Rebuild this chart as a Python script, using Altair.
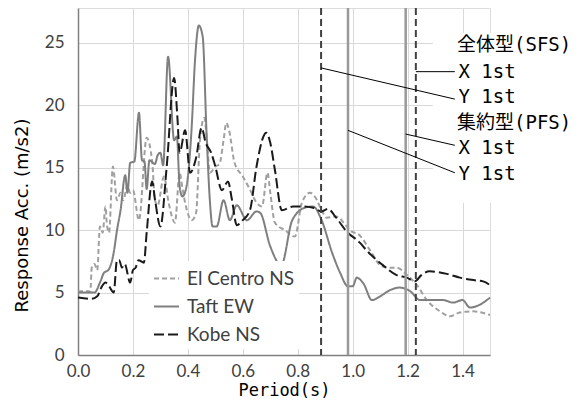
import altair as alt
import pandas as pd

# ---- series data (period s, response acc. m/s2) ----
elc_p = [0.0, 0.045, 0.05, 0.06, 0.07, 0.08, 0.09, 0.1, 0.105, 0.113, 0.127, 0.142, 0.155, 0.165,
         0.18, 0.19, 0.2, 0.222, 0.25, 0.27, 0.28, 0.29, 0.313, 0.33, 0.353, 0.37, 0.38, 0.39,
         0.414, 0.43, 0.444, 0.46, 0.47, 0.48, 0.5, 0.515, 0.53, 0.54, 0.55, 0.57, 0.6, 0.625,
         0.65, 0.67, 0.69, 0.7, 0.717, 0.753, 0.79, 0.815, 0.845, 0.865, 0.887, 0.905, 0.94,
         0.978, 0.99, 1.025, 1.063, 1.1, 1.125, 1.16, 1.198, 1.234, 1.27, 1.318, 1.354, 1.39,
         1.438, 1.47, 1.5]
elc_v = [5.1, 5.1, 7.0, 7.3, 6.8, 10.3, 9.8, 11.9, 10.5, 9.8, 15.1, 12.4, 13.0, 12.4,
         13.6, 13.0, 13.2, 10.8, 17.4, 15.5, 12.4, 12.0, 14.3, 12.2, 10.6, 14.6, 13.4, 12.2,
         10.8, 11.4, 17.2, 19.0, 17.0, 14.6, 15.1, 15.3, 17.2, 18.6, 18.0, 15.4, 14.3, 13.3,
         12.2, 11.9, 14.6, 13.0, 10.6, 10.0, 9.5, 12.2, 13.0, 12.6, 11.6, 11.0, 11.1,
         10.3, 10.0, 9.6, 8.4, 7.2, 7.0, 7.0, 6.4, 5.6, 4.4, 3.5, 3.1, 3.4,
         3.5, 3.4, 3.2]

taft_p = [0.0, 0.03, 0.06, 0.08, 0.095, 0.11, 0.13, 0.142, 0.155, 0.172, 0.18, 0.19, 0.205,
          0.222, 0.233, 0.242, 0.25, 0.26, 0.28, 0.29, 0.3, 0.31, 0.328, 0.35, 0.36, 0.37,
          0.38, 0.395, 0.414, 0.426, 0.44, 0.454, 0.468, 0.48, 0.49, 0.505, 0.53, 0.553,
          0.578, 0.615, 0.65, 0.663, 0.7, 0.74, 0.78, 0.826, 0.856, 0.887, 0.925, 0.954,
          0.983, 1.0, 1.015, 1.04, 1.07, 1.1, 1.136, 1.172, 1.21, 1.245, 1.29, 1.33, 1.365,
          1.4, 1.427, 1.46, 1.5]
taft_v = [5.0, 5.0, 5.0, 5.8, 6.6, 6.8, 8.2, 10.0, 11.6, 14.4, 13.0, 15.4, 15.5,
          19.4, 15.6, 15.5, 13.3, 15.6, 15.3, 16.0, 16.2, 15.2, 23.9, 17.2, 17.5, 13.5,
          12.7, 13.5, 18.3, 23.6, 26.4, 25.5, 17.8, 12.4, 10.3, 10.3, 12.4, 10.8,
          12.0, 10.8, 11.5, 11.4, 8.7, 7.2, 10.8, 11.8, 11.9, 10.8, 8.2, 6.6,
          5.5, 5.5, 6.2, 5.7, 4.4, 4.7, 5.2, 5.4, 5.1, 4.4, 4.4, 4.4, 4.2,
          4.4, 3.8, 4.0, 4.6]

kobe_p = [0.0, 0.05, 0.07, 0.087, 0.1, 0.113, 0.13, 0.142, 0.15, 0.16, 0.17, 0.19, 0.2, 0.21,
          0.22, 0.24, 0.25, 0.27, 0.28, 0.3, 0.323, 0.35, 0.362, 0.37, 0.39, 0.408, 0.43,
          0.45, 0.465, 0.485, 0.5, 0.524, 0.546, 0.56, 0.578, 0.6, 0.626, 0.65, 0.675,
          0.685, 0.7, 0.717, 0.742, 0.783, 0.82, 0.856, 0.887, 0.91, 0.94, 0.978, 1.026,
          1.05, 1.11, 1.16, 1.197, 1.227, 1.25, 1.28, 1.343, 1.39, 1.44, 1.475, 1.5]
kobe_v = [4.6, 4.5, 4.7, 5.5, 5.8, 5.5, 5.0, 7.6, 7.6, 7.0, 7.3, 5.8, 6.8, 7.0,
          7.6, 7.4, 9.8, 13.9, 12.5, 10.3, 15.1, 22.2, 19.0, 16.2, 18.0, 14.6, 15.8,
          18.2, 17.0, 16.2, 15.1, 13.2, 13.9, 12.5, 10.4, 10.8, 11.6, 15.1, 17.5,
          17.8, 17.0, 14.8, 11.6, 11.9, 11.9, 11.8, 11.5, 11.7, 11.0, 9.9, 9.0,
          8.4, 7.2, 6.4, 6.2, 5.9, 6.4, 6.7, 6.5, 6.2, 6.0, 5.9, 5.6]

series_names = ["El Centro NS", "Taft EW", "Kobe NS"]
series_colors = ["#a0a0a0", "#7f7f7f", "#1a1a1a"]
series_dash = [[5, 3], [1, 0], [10, 4]]

# ---- natural periods (vertical lines) ----
vline_period = [0.885, 0.983, 1.193, 1.23]
vline_kind = ["SFS", "PFS", "PFS", "SFS"]

# ---- annotation ----
ann_text = ["全体型(SFS)", "X 1st", "Y 1st", "集約型(PFS)", "X 1st", "Y 1st"]
ann_x = [1.38, 1.385, 1.385, 1.38, 1.385, 1.385]
ann_y = [24.8, 22.7, 20.7, 18.6, 16.6, 14.5]
lead_x1 = [1.23, 0.885, 1.193, 0.983]
lead_y1 = [22.7, 23.0, 17.7, 18.0]
lead_x2 = [1.372, 1.372, 1.372, 1.372]
lead_y2 = [22.7, 20.5, 16.8, 14.6]
box = {"x": [1.292], "x2": [1.56], "y": [12.2], "y2": [25.8]}

x_ticks = [round(i * 0.1, 1) for i in range(16)]
y_ticks = [0, 5, 10, 15, 20, 25]

rows = []
for name, ps, vs in zip(series_names, [elc_p, taft_p, kobe_p], [elc_v, taft_v, kobe_v]):
    for p, v in zip(ps, vs):
        rows.append({"period": p, "acc": v, "series": name})
df = pd.DataFrame(rows)

x_scale = alt.Scale(domain=[0, 1.5], nice=False)
y_scale = alt.Scale(domain=[0, 27.8], nice=False)

tick_font = "Lato"
mono = "DejaVu Sans Mono, Noto Sans CJK JP"

x_axis = alt.Axis(values=x_ticks, labelExpr="round(datum.value*10)%2==0 ? format(datum.value,'.1f') : ''",
                  grid=True, gridColor="#d9d9d9", ticks=False, domainColor="#808080", domainWidth=1.5,
                  labelFont=tick_font, labelFontSize=17, labelColor="#404040", labelPadding=8,
                  labelFlush=False, labelOverlap=False,
                  title="Period(s)", titleFont=mono, titleFontSize=17, titleFontWeight="normal",
                  titleColor="#000000", titleY=35, titleBaseline="middle")
y_axis = alt.Axis(values=y_ticks, grid=True, gridColor="#d9d9d9", ticks=False, domainColor="#808080",
                  domainWidth=1.5, labelFont=tick_font, labelFontSize=17, labelColor="#404040",
                  labelPadding=14, labelFlush=False, labelOverlap=False,
                  title="Response Acc. (m/s2)", titleFont="DejaVu Sans", titleFontSize=18,
                  titleFontWeight="normal", titleColor="#000000", titleX=-56, titleY=207,
                  titleAngle=270, titleAlign="center", titleBaseline="middle")

base_rect = alt.Chart(pd.DataFrame(box)).mark_rect(fill="white").encode(
    x=alt.X("x:Q", scale=x_scale, axis=x_axis), x2="x2:Q",
    y=alt.Y("y:Q", scale=y_scale, axis=y_axis), y2="y2:Q")

lines = alt.Chart(df).mark_line(strokeWidth=2, interpolate="monotone").encode(
    x=alt.X("period:Q", scale=x_scale),
    y=alt.Y("acc:Q", scale=y_scale),
    color=alt.Color("series:N", scale=alt.Scale(domain=series_names, range=series_colors),
                    sort=series_names,
                    legend=alt.Legend(title=None, orient="none", legendX=71, legendY=253,
                                      symbolType="stroke", symbolSize=625, symbolStrokeWidth=2,
                                      labelFont=tick_font, labelFontSize=19, labelColor="#404040",
                                      labelOffset=7, rowPadding=4, fillColor="white", padding=4)),
    strokeDash=alt.StrokeDash("series:N", scale=alt.Scale(domain=series_names, range=series_dash),
                              sort=series_names, legend=None),
    detail="series:N")

vdf = pd.DataFrame({"period": vline_period, "kind": vline_kind})
vl_dash = alt.Chart(vdf[vdf.kind == "SFS"]).mark_rule(color="#404040", strokeWidth=2,
                                                      strokeDash=[7, 4]).encode(x=alt.X("period:Q", scale=x_scale))
vl_solid = alt.Chart(vdf[vdf.kind == "PFS"]).mark_rule(color="#999999", strokeWidth=2.5).encode(
    x=alt.X("period:Q", scale=x_scale))

ldf = pd.DataFrame({"x1": lead_x1, "y1": lead_y1, "x2": lead_x2, "y2": lead_y2})
leaders = alt.Chart(ldf).mark_rule(color="#000000", strokeWidth=1).encode(
    x=alt.X("x1:Q", scale=x_scale), x2="x2:Q", y=alt.Y("y1:Q", scale=y_scale), y2="y2:Q")

adf = pd.DataFrame({"t": ann_text, "x": ann_x, "y": ann_y})
ann = alt.Chart(adf).mark_text(align="left", baseline="middle", font=mono, fontSize=19,
                               color="#000000").encode(
    x=alt.X("x:Q", scale=x_scale), y=alt.Y("y:Q", scale=y_scale), text="t:N")

chart = alt.layer(base_rect, lines, vl_dash, vl_solid, leaders, ann).properties(
    width=412, height=347,
    padding={"left": 70, "top": 0, "right": 82, "bottom": 62},
    autosize=alt.AutoSizeParams(type="none"),
).configure_view(stroke=None).configure(background="white")

chart.save("out.html", embed_options={"renderer": "svg", "actions": False})
